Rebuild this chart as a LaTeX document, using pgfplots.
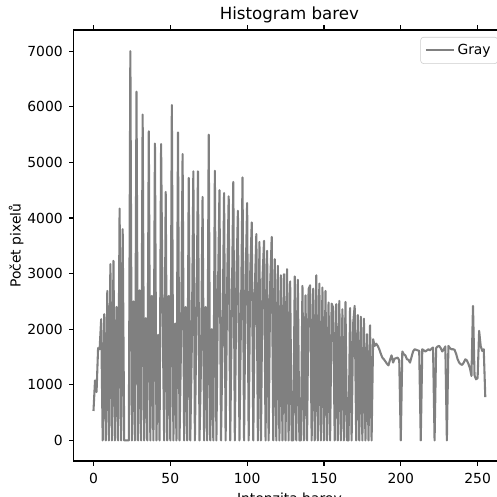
\documentclass[border=0pt]{standalone}
\usepackage{fontspec}
\setmainfont{DejaVu Sans}
\usepackage{pgfplots}
\pgfplotsset{compat=1.18}

\begin{document}
\begin{tikzpicture}[x=1pt,y=1pt]
\useasboundingbox (0,0) rectangle (357.84,357.84);
\clip (0,0) rectangle (357.84,357.84);
\begin{axis}[
    at={(53.2pt,25.9pt)}, anchor=south west,
    scale only axis, width=310.3pt, height=310.3pt,
    xmin=-12.75, xmax=267.75,
    ymin=-370, ymax=7380,
    xtick={0,50,...,250},
    ytick={0,1000,...,7000},
    tick align=outside,
    major tick length=3.5pt,
    every tick/.style={black, line width=0.8pt},
    axis line style={line width=0.8pt},
    tick label style={font=\fontsize{10}{12}\selectfont},
    xticklabel style={yshift=-1.5pt},
    yticklabel style={xshift=-1pt},
    /pgf/number format/assume math mode=true,
    /pgf/number format/1000 sep={},
    title={Histogram barev},
    title style={font=\fontsize{12}{14}\selectfont, yshift=-4.5pt},
    xlabel={Intenzita barev},
    ylabel={Počet pixelů},
    label style={font=\fontsize{10}{12}\selectfont},
    ylabel style={yshift=-4pt},
    legend style={at={(1,1)}, anchor=north east, xshift=-5pt, yshift=-5pt,
        draw=black!20, rounded corners=2pt, font=\fontsize{10}{12}\selectfont,
        inner xsep=3pt, inner ysep=3pt},
    legend image code/.code={\draw[gray, line width=1.5pt] (0pt,0pt) -- (20pt,0pt);},
    legend cell align=left,
]
\addplot[gray, line width=1.5pt, line join=round] coordinates {
(0,530)(1,1080)(2,870)(3,1660)(4,1640)(5,2180)(6,0)(7,2270)
(8,0)(9,2690)(10,0)(11,3170)(12,0)(13,3230)(14,0)(15,2400)
(16,0)(17,4170)(18,0)(19,3800)(20,0)(21,0)(22,0)(23,0)
(24,7000)(25,0)(26,2500)(27,0)(28,6270)(29,0)(30,2700)(31,0)
(32,5860)(33,0)(34,2200)(35,0)(36,5560)(37,0)(38,2600)(39,0)
(40,5340)(41,0)(42,1900)(43,0)(44,5330)(45,2300)(46,0)(47,4470)
(48,0)(49,2600)(50,0)(51,6030)(52,0)(53,2100)(54,0)(55,5540)
(56,0)(57,1800)(58,5150)(59,0)(60,2400)(61,0)(62,4720)(63,0)
(64,1700)(65,4840)(66,0)(67,2200)(68,4840)(69,0)(70,1400)(71,4380)
(72,0)(73,2400)(74,0)(75,5500)(76,0)(77,2000)(78,0)(79,4850)
(80,0)(81,2600)(82,4500)(83,0)(84,1800)(85,4450)(86,0)(87,2800)
(88,4390)(89,0)(90,2300)(91,4650)(92,0)(93,2900)(94,4130)(95,0)
(96,2200)(97,4730)(98,0)(99,2800)(100,4270)(101,0)(102,3000)(103,3920)
(104,0)(105,2700)(106,3710)(107,0)(108,3570)(109,0)(110,2900)(111,3590)
(112,0)(113,3410)(114,0)(115,2800)(116,3660)(117,0)(118,3260)(119,0)
(120,3140)(121,0)(122,2970)(123,0)(124,2990)(125,0)(126,3080)(127,0)
(128,2860)(129,0)(130,0)(131,2950)(132,0)(133,2890)(134,0)(135,0)
(136,2780)(137,0)(138,2610)(139,0)(140,2720)(141,2790)(142,0)(143,2730)
(144,0)(145,2970)(146,0)(147,2820)(148,0)(149,2750)(150,0)(151,2690)
(152,0)(153,2480)(154,0)(155,2460)(156,2390)(157,0)(158,2450)(159,0)
(160,2510)(161,0)(162,2360)(163,0)(164,2490)(165,0)(166,0)(167,2380)
(168,0)(169,2100)(170,2420)(171,0)(172,2255)(173,0)(174,2225)(175,0)
(176,2190)(177,0)(178,1910)(179,0)(180,2070)(181,0)(182,1820)(183,1700)
(184,1740)(185,1700)(186,1640)(187,1560)(188,1490)(189,1460)(190,1420)(191,1380)
(192,1350)(193,1450)(194,1530)(195,1400)(196,1470)(197,1480)(198,1490)(199,1440)
(200,0)(201,1600)(202,1550)(203,1530)(204,1460)(205,1450)(206,1400)(207,1500)
(208,1600)(209,1640)(210,1630)(211,1620)(212,1610)(213,0)(214,1640)(215,1620)
(216,1600)(217,1620)(218,1640)(219,1620)(220,1650)(221,1670)(222,0)(223,1660)
(224,1690)(225,1700)(226,1660)(227,1600)(228,1640)(229,1690)(230,0)(231,1700)
(232,1660)(233,1640)(234,1640)(235,1630)(236,1560)(237,1460)(238,1400)(239,1370)
(240,1360)(241,1400)(242,1460)(243,1440)(244,1380)(245,1300)(246,1160)(247,2420)
(248,1170)(249,1100)(250,1120)(251,1970)(252,1700)(253,1610)(254,1640)(255,780)
};
\addlegendentry{Gray}
\end{axis}
\end{tikzpicture}
\end{document}
